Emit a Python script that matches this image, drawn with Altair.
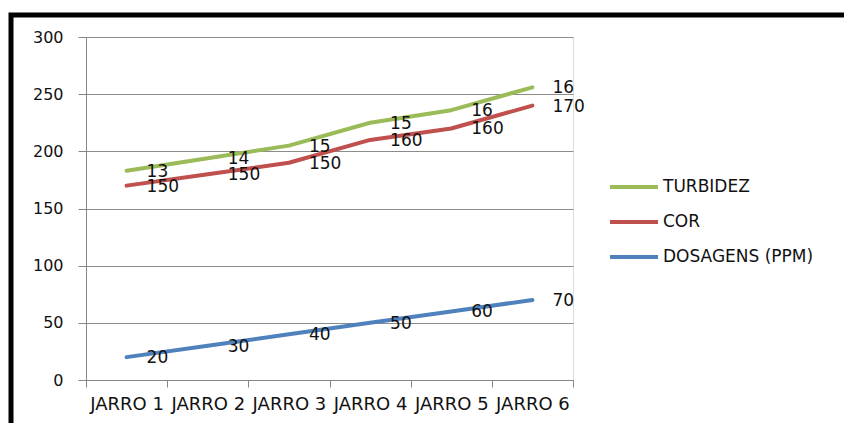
import altair as alt
import pandas as pd

jarros = ["JARRO 1", "JARRO 2", "JARRO 3", "JARRO 4", "JARRO 5", "JARRO 6"]
dosagens = [20, 30, 40, 50, 60, 70]
cor = [150, 150, 150, 160, 160, 170]
turbidez = [13, 14, 15, 15, 16, 16]

series_names = ["DOSAGENS (PPM)", "COR", "TURBIDEZ"]
series_values = [dosagens, cor, turbidez]
series_colors = ["#4F81BD", "#C0504D", "#9BBB59"]

rows = []
for rank, (name, vals) in enumerate(zip(series_names, series_values)):
    for j, v in zip(jarros, vals):
        rows.append({"jarro": j, "serie": name, "value": v, "rank": rank})
df = pd.DataFrame(rows)

FONT = "DejaVu Sans"

x_enc = alt.X(
    "jarro:N",
    sort=jarros,
    scale=alt.Scale(type="band", paddingInner=0, paddingOuter=0),
    bandPosition=0.5,
    axis=alt.Axis(
        title=None, labelAngle=0, tickBand="extent", grid=False,
        domainColor="#868686", tickColor="#868686", tickSize=7,
        labelFont=FONT, labelFontSize=18, labelColor="#111111", labelPadding=8,
    ),
)
y_enc = alt.Y(
    "y1:Q",
    scale=alt.Scale(domain=[0, 300], nice=False),
    axis=alt.Axis(
        title=None, values=[0, 50, 100, 150, 200, 250, 300],
        grid=True, gridColor="#8c8c8c", gridWidth=1,
        domainColor="#868686", tickColor="#868686", tickSize=8,
        labelFont=FONT, labelFontSize=16, labelColor="#111111", labelPadding=15,
    ),
)
color_enc = alt.Color(
    "serie:N",
    scale=alt.Scale(domain=series_names, range=series_colors),
    sort=["TURBIDEZ", "COR", "DOSAGENS (PPM)"],
    legend=alt.Legend(
        title=None, orient="none", legendX=522, legendY=140,
        symbolType="stroke", symbolSize=2304, symbolStrokeWidth=4,
        clipHeight=20, rowPadding=15, labelOffset=3, padding=0,
        labelFont=FONT, labelFontSize=17, labelColor="#111111",
        values=["TURBIDEZ", "COR", "DOSAGENS (PPM)"],
    ),
)

base = alt.Chart(df).transform_stack(
    stack="value", groupby=["jarro"], as_=["y0", "y1"],
    sort=[alt.SortField("rank", order="ascending")],
)

lines = base.mark_line(strokeWidth=4, strokeCap="round", strokeJoin="round").encode(
    x=x_enc, y=y_enc, color=color_enc, detail="serie:N"
)
labels = base.mark_text(
    align="left", baseline="middle", dx=20, dy=1,
    font=FONT, fontSize=17, color="#111111",
).encode(x=x_enc, y=alt.Y("y1:Q"), text="value:Q", detail="serie:N")

frame = alt.Chart(pd.DataFrame({"a": [0]})).mark_rect(
    fill=None, stroke="black", strokeWidth=5
).encode(
    x=alt.value(-75), y=alt.value(-22), x2=alt.value(900), y2=alt.value(500)
)

chart = alt.layer(frame, lines, labels).properties(
    width=487, height=343,
    padding={"left": 86, "top": 37, "right": 271, "bottom": 43},
    autosize=alt.AutoSizeParams(type="none"),
).configure_view(stroke=None).configure(background="white")

chart.save("out.html", embed_options={"renderer": "svg", "actions": False})
